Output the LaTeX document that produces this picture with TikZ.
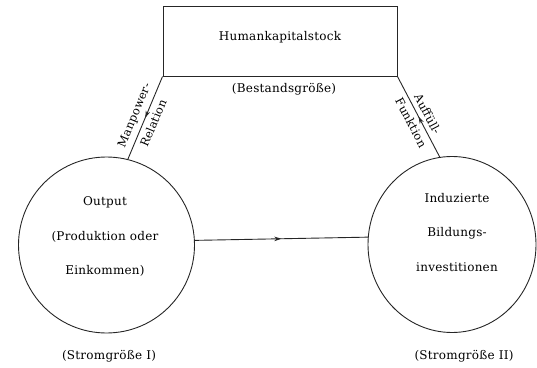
\documentclass[tikz,border=0pt]{standalone}
\usepackage{fontspec}
\setmainfont{DejaVu Serif}[LetterSpace=2]
\usetikzlibrary{decorations.markings,arrows.meta,shapes.geometric}
\tikzset{
  line/.style={draw=black!85, line width=0.9pt},
  midarrow/.style={postaction={decorate,decoration={markings,
     mark=at position 0.5 with {\arrow{Stealth[length=7pt,width=4.5pt]}}}}},
  txt/.style={font=\fontsize{12}{14}\selectfont, inner sep=0pt},
  lines/.style={font=\fontsize{12}{34.5}\selectfont, align=center, inner sep=0pt},
  slabel/.style={font=\fontsize{11.5}{13}\selectfont, inner sep=4.5pt, sloped}
}
\begin{document}
\begin{tikzpicture}[x=1pt,y=1pt]
\useasboundingbox (0,0) rectangle (537,367);
\node[line, rectangle, minimum width=234pt, minimum height=70pt, inner sep=0pt] (hk) at (280,326) {};
\node[txt] (hktext) at (280,330) {Humankapitalstock};
\node[txt] (best) at (284,278) {(Bestandsgröße)};
\node[line, circle, minimum size=176pt, inner sep=0pt] (out) at (106.5,122) {};
\node[line, ellipse, minimum width=168pt, minimum height=176pt, inner sep=0pt] (ind) at (452,122.5) {};
\node[lines] (outtext) at (105,130.5) {Output\\(Produktion oder\\Einkommen)};
\node[lines] (indtext) at (457,134.5) {Induzierte\\Bildungs-\\investitionen};
\node[txt] (s1) at (109,11) {(Stromgröße I)};
\node[txt] (s2) at (464,11) {(Stromgröße II)};
\draw[line, midarrow] (hk.south west) -- node[slabel, above, pos=0.52] {Manpower-} node[slabel, below, pos=0.52] {Relation} (out.76.6);
\draw[line, midarrow] (ind.98.5) -- node[slabel, above, pos=0.48] {Auffüll-} node[slabel, below, pos=0.48] {Funktion} (hk.south east);
\draw[line, midarrow] (out.3.9) -- (ind.175);
\end{tikzpicture}
\end{document}
